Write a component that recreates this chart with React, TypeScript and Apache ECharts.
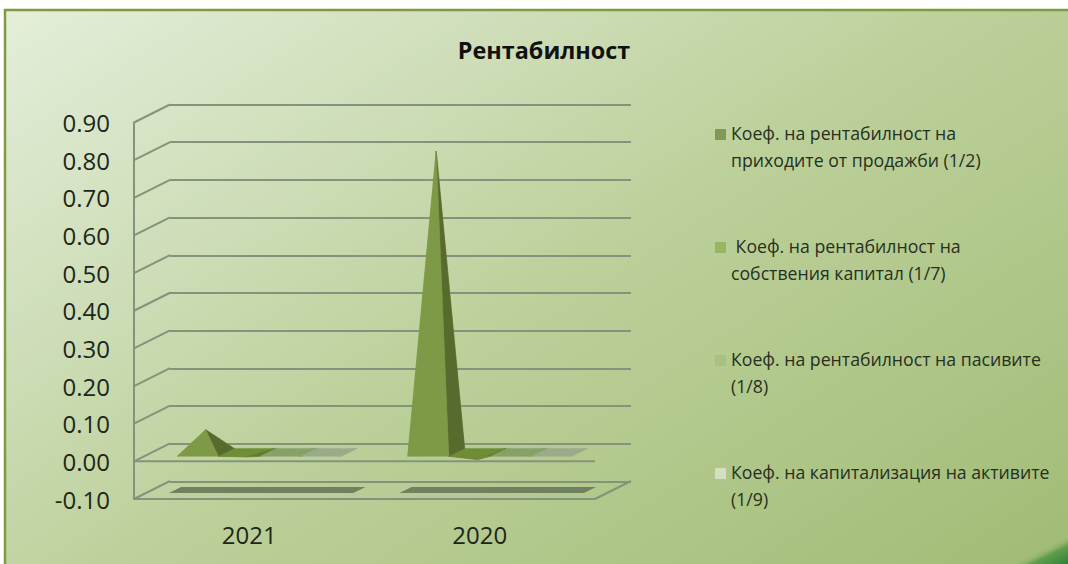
import React, { useEffect, useRef } from "react";
import * as echarts from "echarts";

const TITLE = "Рентабилност";
const categories = ["2021", "2020"];
const yTicks = [-0.1, 0, 0.1, 0.2, 0.3, 0.4, 0.5, 0.6, 0.7, 0.8, 0.9];
const seriesNames = [
  "Коеф. на рентабилност на приходите от продажби (1/2)",
  "Коеф. на рентабилност на собствения капитал (1/7)",
  "Коеф. на рентабилност на пасивите (1/8)",
  "Коеф. на капитализация на активите (1/9)",
];
const legendLines = [
  "Коеф. на рентабилност на\nприходите от продажби (1/2)",
  " Коеф. на рентабилност на\nсобствения капитал (1/7)",
  "Коеф. на рентабилност на пасивите\n(1/8)",
  "Коеф. на капитализация на активите\n(1/9)",
];
const returnOnSales = [0.06, 0.8];
const returnOnEquity = [-0.012, -0.019];
const returnOnLiabilities = [0.002, 0.002];
const assetCapitalisation = [0.001, 0.001];
const allValues = [returnOnSales, returnOnEquity, returnOnLiabilities, assetCapitalisation];
const frontColors = ["#7f9a46", "#6f8c36", "#87a069", "#9aab8b"];
const sideColors = ["#566b2d", "#5c7a2c", "#87a069", "#9aab8b"];
const legendColors = ["#7f9a57", "#98b560", "#a8c182", "#d2dfc0"];

const DEPTH_X = 36;
const DEPTH_Y = -18;
const LINE = "#84937b";
const FONT = "'Open Sans', sans-serif";
const ICON = "path://M0 10H11V21H0Z M0 0L0 0 M0 54L0 54";

const depth = (p: number[], t: number) => [p[0] + DEPTH_X * t, p[1] + DEPTH_Y * t];

const renderFrame = (params: any, api: any) => {
  const tick = api.value(1);
  const sys = params.coordSys;
  const p = api.coord([0, tick]);
  const front = [sys.x, p[1]];
  const back = depth(front, 1);
  const style = { stroke: LINE, lineWidth: 2, fill: "none" };
  const children: any[] = [
    { type: "line", shape: { x1: front[0], y1: front[1], x2: back[0], y2: back[1] }, style },
  ];
  const right = sys.x + sys.width;
  if (tick === 0) {
    children.push({ type: "line", shape: { x1: front[0], y1: front[1], x2: right, y2: front[1] }, style });
  }
  if (tick === yTicks[0]) {
    const e = depth([right, front[1]], 1);
    children.push({ type: "line", shape: { x1: right, y1: front[1], x2: e[0], y2: e[1] }, style });
  }
  return { type: "group", children };
};

const renderShadow = (params: any, api: any) => {
  const sys = params.coordSys;
  const floorY = sys.y + sys.height;
  const center = api.coord([api.value(0), 0])[0];
  const half = api.size([1, 0])[0] * 0.4;
  const a = depth([center - half, floorY], 0.33);
  const b = depth([center + half, floorY], 0.33);
  const c = depth([center + half, floorY], 0.67);
  const d = depth([center - half, floorY], 0.67);
  return {
    type: "polygon",
    shape: { points: [a, b, c, d] },
    style: { fill: "#6f8160" },
  };
};

const makeRenderer = (seriesIndex: number) => (_params: any, api: any) => {
  const cat = api.value(0);
  const val = api.value(1);
  const band = api.size([1, 0])[0];
  const w = band * 0.178;
  const center = api.coord([cat, 0]);
  const x0 = center[0] - 2 * w + seriesIndex * w;
  const y0 = center[1];
  const fl = depth([x0, y0], 0.28);
  const fr = depth([x0 + w, y0], 0.28);
  const br = depth([x0 + w, y0], 0.72);
  const bl = depth([x0, y0], 0.72);
  const apex = depth([x0 + w / 2, api.coord([cat, val])[1]], 0.5);
  const front = frontColors[seriesIndex];
  const side = sideColors[seriesIndex];
  const face = (pts: number[][], fill: string) => ({
    type: "polygon",
    shape: { points: pts },
    style: { fill, stroke: fill, lineWidth: 0.5 },
  });
  return {
    type: "group",
    children: [
      face([bl, br, apex], front),
      face([fl, bl, apex], front),
      face([fr, br, apex], side),
      face([fl, fr, apex], front),
    ],
  };
};

export default function App() {
  const ref = useRef<HTMLDivElement>(null);
  useEffect(() => {
    document.body.style.margin = "0";
    const chart = echarts.init(ref.current!, undefined, { renderer: "svg" });
    const axisText = { fontFamily: FONT, fontSize: 24, color: "#1e261a" };
    chart.setOption({
      animation: false,
      backgroundColor: "#ffffff",
      graphic: {
        elements: [
          {
            type: "rect",
            z: -100,
            shape: { x: 5, y: 10, width: 1075, height: 570 },
            style: {
              stroke: "#7f9a3f",
              lineWidth: 2.5,
              fill: new echarts.graphic.LinearGradient(0, 0, 1.09, 0.89, [
                { offset: 0, color: "#e4eeda" },
                { offset: 0.25, color: "#d0dfbb" },
                { offset: 0.5, color: "#bcd09a" },
                { offset: 1, color: "#a0bb74" },
              ]),
            },
          },
          {
            type: "rect",
            z: -99,
            shape: { x: 1016, y: 538, width: 52, height: 26 },
            style: {
              fill: new echarts.graphic.LinearGradient(0, 0, 1, 1, [
                { offset: 0.45, color: "rgba(160,187,116,0)" },
                { offset: 0.65, color: "#5f9e4d" },
                { offset: 1, color: "#2a8233" },
              ]),
            },
          },
        ],
      },
      title: {
        text: TITLE,
        left: 539,
        top: 33,
        textAlign: "center",
        textStyle: { fontFamily: FONT, fontSize: 23.4, fontWeight: "bold", color: "#111" },
      },
      legend: {
        orient: "vertical",
        left: 710,
        top: 114,
        itemGap: 59,
        itemWidth: 11,
        itemHeight: 54,
        icon: ICON,
        data: seriesNames,
        selectedMode: false,
        formatter: (name: string) => legendLines[seriesNames.indexOf(name)],
        textStyle: { fontFamily: FONT, fontSize: 17.7, lineHeight: 27, color: "#26301f" },
      },
      grid: [
        { left: 134, right: 473, top: 122.5, bottom: 65 },
        { left: 170, right: 437, top: 104.5, bottom: 82.5 },
      ],
      xAxis: [
        {
          type: "category",
          gridIndex: 0,
          data: categories,
          position: "bottom",
          axisLine: { onZero: false, lineStyle: { color: LINE, width: 2 } },
          axisTick: { show: false },
          axisLabel: { ...axisText, margin: 23 },
        },
        { type: "category", gridIndex: 1, data: categories, show: false },
      ],
      yAxis: [
        {
          type: "value",
          gridIndex: 0,
          min: -0.1,
          max: 0.9,
          interval: 0.1,
          axisLine: { show: true, lineStyle: { color: LINE, width: 2 } },
          axisTick: { show: false },
          splitLine: { show: false },
          axisLabel: { ...axisText, margin: 24, formatter: (v: number) => v.toFixed(2) },
        },
        {
          type: "value",
          gridIndex: 1,
          min: -0.1,
          max: 0.9,
          interval: 0.1,
          axisLine: { show: false },
          axisTick: { show: false },
          axisLabel: { show: false },
          splitLine: { show: true, lineStyle: { color: LINE, width: 2 } },
        },
      ],
      series: [
        {
          type: "custom",
          name: "frame",
          silent: true,
          z: 1,
          xAxisIndex: 0,
          yAxisIndex: 0,
          encode: { x: 0, y: 1 },
          data: yTicks.map((t) => [0, t]),
          renderItem: renderFrame,
        },
        {
          type: "custom",
          name: "floor",
          silent: true,
          z: 2,
          xAxisIndex: 0,
          yAxisIndex: 0,
          encode: { x: 0, y: 1 },
          data: categories.map((_, i) => [i, yTicks[0]]),
          renderItem: renderShadow,
        },
        ...seriesNames.map((name, s) => ({
          type: "custom",
          name,
          silent: true,
          z: 3 + (seriesNames.length - s),
          xAxisIndex: 0,
          yAxisIndex: 0,
          encode: { x: 0, y: 1 },
          itemStyle: { color: legendColors[s] },
          data: allValues[s].map((v, i) => [i, v]),
          renderItem: makeRenderer(s),
        })),
      ],
    });
    return () => chart.dispose();
  }, []);
  return <div ref={ref} style={{ width: 1068, height: 564, display: "block" }} />;
}
